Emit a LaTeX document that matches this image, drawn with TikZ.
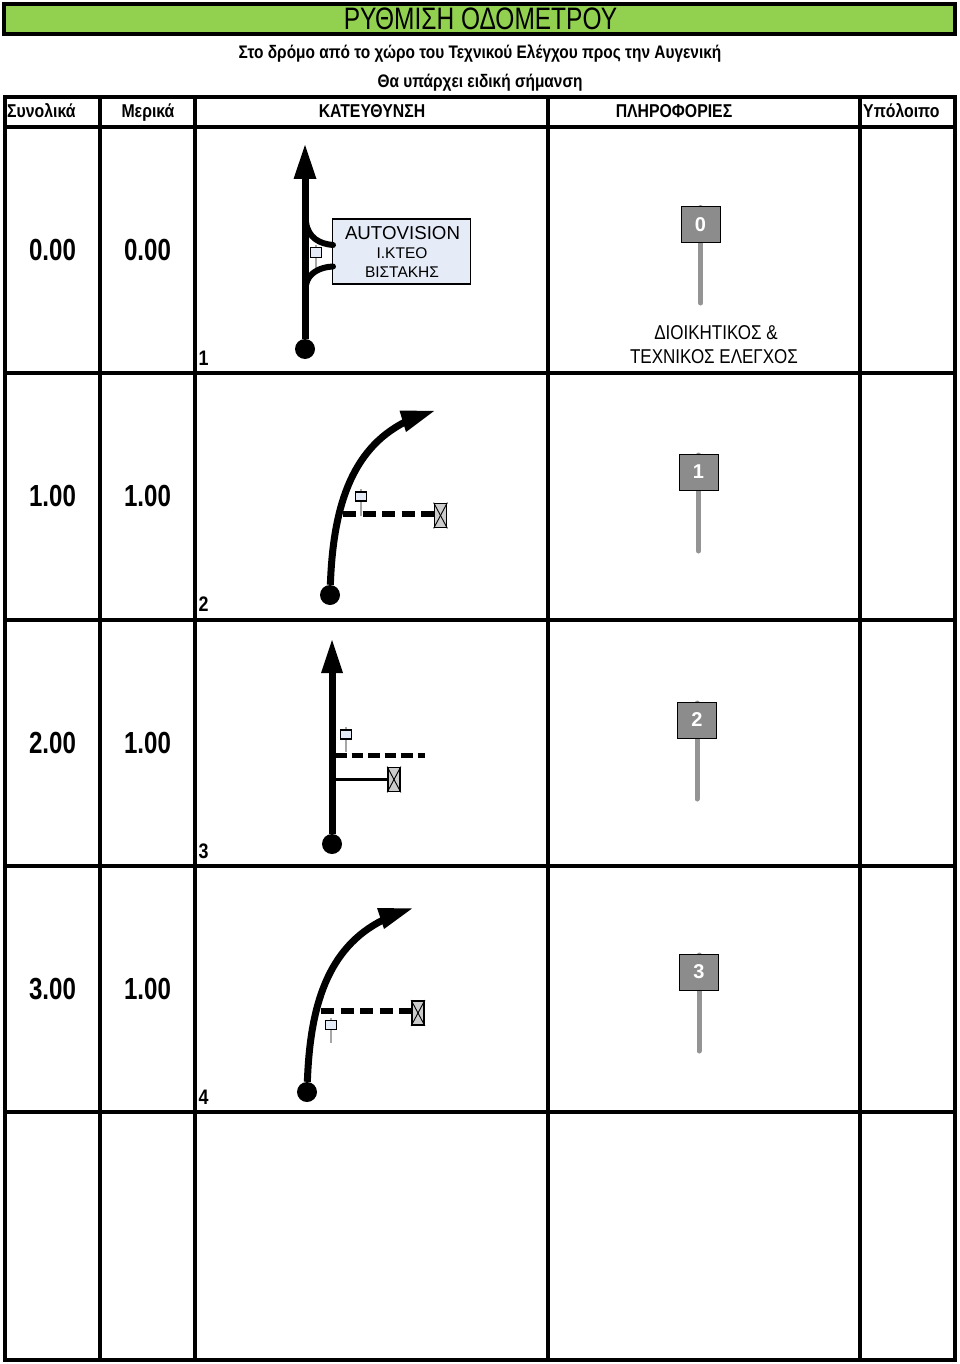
\documentclass[tikz,border=0pt]{standalone}
\usepackage{fontspec}
\setmainfont{Liberation Sans}
\newfontfamily\nar[FakeStretch=0.85]{Liberation Sans}
\newfontfamily\narr[FakeStretch=0.79]{Liberation Sans}
\usetikzlibrary{arrows.meta}
\definecolor{band}{HTML}{92D050}
\definecolor{panel}{HTML}{E6ECF7}
\tikzset{x=1pt,y=-1pt,
 rule/.style={line width=4pt,black,line cap=rect},
 title/.style={font=\narr\fontsize{31}{31}\selectfont,inner sep=0pt,anchor=base},
 sub/.style={font=\nar\bfseries\fontsize{18.15}{18}\selectfont,inner sep=0pt,anchor=base},
 head/.style={font=\nar\bfseries\fontsize{18.6}{19}\selectfont,inner sep=0pt,anchor=base},
 num/.style={font=\narr\bfseries\fontsize{30.5}{31}\selectfont,inner sep=0pt,anchor=base},
 idx/.style={font=\nar\bfseries\fontsize{21}{21}\selectfont,inner sep=0pt,anchor=base},
 info/.style={font=\nar\fontsize{20}{24}\selectfont,inner sep=0pt,anchor=base},
 road/.style={line width=7pt,black},
 dot/.style={circle,fill=black,inner sep=0pt,minimum size=20pt},
 dashroad/.style={line width=6pt,black,dash pattern=on 13pt off 6.5pt},
 dashroadb/.style={line width=5pt,black,dash pattern=on 11.5pt off 5pt},
 stopbox/.style={draw=black,line width=1.7pt,fill=black!20,minimum width=12pt,minimum height=24pt,inner sep=0pt},
 stopx/.style={line width=0.9pt,black},
 flag/.style={draw=black,line width=1.6pt,fill=panel,minimum width=11pt,minimum height=9pt,inner sep=0pt},
 flagthin/.style={flag,line width=1pt},
 pole/.style={line width=1.3pt,black!35},
 signpole/.style={line width=5pt,black!42,line cap=round},
 sign/.style={draw=black,line width=1pt,fill=black!45,text=white,minimum width=39pt,minimum height=36pt,inner sep=0pt,font=\bfseries\fontsize{20}{20}\selectfont},
 tip/.style={fill=black}
}
\begin{document}
\begin{tikzpicture}
\useasboundingbox (0,0) rectangle (960,1364);
\fill[white] (0,0) rectangle (960,1364);
% title band
\node[draw=black,line width=4pt,fill=band,minimum width=951pt,minimum height=30pt,inner sep=0pt,outer sep=0pt] (band) at (479.5,19) {};
\node[title] (ttl) at (480.5,29.5) {ΡΥΘΜΙΣΗ ΟΔΟΜΕΤΡΟΥ};
\node[sub] (s1) at (480,59) {Στο δρόμο από το χώρο του Τεχνικού Ελέγχου προς την Αυγενική};
\node[sub] (s2) at (480,88) {Θα υπάρχει ειδική σήμανση};
% grid
\draw[rule] (5,97) -- (955,97);
\draw[rule] (5,127) -- (955,127);
\foreach \yy in {373,620,866,1112,1360} \draw[rule] (5,\yy) -- (955,\yy);
\foreach \xx in {5,99.5,195,548,860,955} \draw[rule] (\xx,97) -- (\xx,1360);
% headers
\node[head,anchor=base west] (h1) at (7,118) {Συνολικά};
\node[head] (h2) at (148,118) {Μερικά};
\node[head] (h3) at (372,118) {ΚΑΤΕΥΘΥΝΣΗ};
\node[head] (h4) at (674,118) {ΠΛΗΡΟΦΟΡΙΕΣ};
\node[head,anchor=base west] (h5) at (863,118) {Υπόλοιπο};
% numbers
\node[num] (a0) at (52.5,260) {0.00}; \node[num] (b0) at (147.5,260) {0.00};
\node[num] (a1) at (52.5,506.5) {1.00}; \node[num] (b1) at (147.5,506.5) {1.00};
\node[num] (a2) at (52.5,753) {2.00}; \node[num] (b2) at (147.5,753) {1.00};
\node[num] (a3) at (52.5,999.5) {3.00}; \node[num] (b3) at (147.5,999.5) {1.00};
\node[idx] (i1) at (203.5,365) {1};
\node[idx] (i2) at (203.5,611.5) {2};
\node[idx] (i3) at (203.5,858) {3};
\node[idx] (i4) at (203.5,1104.5) {4};
% signs
\foreach \nm/\xx/\ytop/\ybot/\yc/\lab in {0/700.5/207.5/303/224.5/0, 1/698.5/455/551/472/1, 2/697/703/799/720/2, 3/699/955/1051/972/3}{
 \coordinate (pt\nm) at (\xx,\ytop);
 \coordinate (pb\nm) at (\xx,\ybot);
 \draw[signpole] (pt\nm) -- (pb\nm);
 \node[sign] (sg\nm) at (\xx,\yc) {\lab};
}
\node[info] (inf1) at (716,339) {ΔΙΟΙΚΗΤΙΚΟΣ \&};
\node[info] (inf2) at (714,363) {ΤΕΧΝΙΚΟΣ ΕΛΕΓΧΟΣ};
% row 0
\node[dot] (d0) at (305,349) {};
\coordinate (t0) at (305,178);
\coordinate (f0b) at (316,270); \coordinate (f0t) at (316,245);
\draw[pole] (f0t) -- (f0b);
\node[draw=black,line width=1.2pt,fill=panel,minimum width=138pt,minimum height=65pt,inner sep=0pt,outer sep=0pt,anchor=north west] (ap) at (332.5,219) {};
\node[font=\fontsize{18.7}{20}\selectfont,inner sep=0pt,anchor=base] (ap1) at (402.5,240) {AUTOVISION};
\node[font=\fontsize{15.5}{16}\selectfont,inner sep=0pt,anchor=base] (ap2) at (402,258.5) {Ι.ΚΤΕΟ};
\node[font=\fontsize{15.5}{16}\selectfont,inner sep=0pt,anchor=base] (ap3) at (402,277) {ΒΙΣΤΑΚΗΣ};
\coordinate (ju0) at (306,222); \coordinate (ap-a) at (333,245);
\coordinate (jd0) at (306,285); \coordinate (ap-b) at (333,266.5);
\draw[line width=6pt,line cap=round] (ju0) .. controls (308,238) and (320,244) .. (ap-a);
\draw[line width=6pt,line cap=round] (jd0) .. controls (308,273) and (320,267) .. (ap-b);
\draw[road] (d0) -- (t0);
\fill[tip] (305,145) -- (316.5,179) -- (293.5,179) -- cycle;
\node[flagthin] (f0) at (316,252.5) {};
% row 1
\node[dot] (d1) at (330,595) {};
\coordinate (t1) at (405,422);
\draw[road] (d1) .. controls (333,510) and (350,450) .. (t1);
\fill[tip] (434,411) -- (399.5,410.5) -- (406,432) -- cycle;
\node[stopbox] (st1) at (440.5,515.5) {};
\draw[stopx] (st1.north west) -- (st1.south east); \draw[stopx] (st1.north east) -- (st1.south west);
\coordinate (js1) at (343,514);
\draw[dashroad] (js1) -- (js1 -| st1.west);
\coordinate (f1t) at (361,489); \coordinate (f1b) at (361,516);
\draw[pole] (f1t) -- (f1b);
\node[flag] (f1) at (361,496.5) {};
% row 2
\node[dot] (d2) at (332,844) {};
\coordinate (t2) at (332,672);
\draw[road] (d2) -- (t2);
\fill[tip] (332,640) -- (343,673) -- (321,673) -- cycle;
\coordinate (js2) at (335,755); \coordinate (je2) at (425,755);
\draw[dashroadb] (js2) -- (je2);
\node[stopbox] (st2) at (394,779.5) {};
\draw[stopx] (st2.north west) -- (st2.south east); \draw[stopx] (st2.north east) -- (st2.south west);
\coordinate (jl2) at (332,779);
\draw[line width=3pt] (jl2) -- (jl2 -| st2.west);
\coordinate (f2t) at (346,727); \coordinate (f2b) at (346,752);
\draw[pole] (f2t) -- (f2b);
\node[flag] (f2) at (346,734.5) {};
% row 3
\node[dot] (d3) at (307,1092) {};
\coordinate (t3) at (383,920);
\draw[road] (d3) .. controls (310,1007) and (327,948) .. (t3);
\fill[tip] (412,908.5) -- (377,908) -- (384,929) -- cycle;
\node[stopbox] (st3) at (418,1013) {};
\draw[stopx] (st3.north west) -- (st3.south east); \draw[stopx] (st3.north east) -- (st3.south west);
\coordinate (js3) at (321,1011);
\draw[dashroad] (js3) -- (js3 -| st3.west);
\coordinate (f3t) at (331,1018); \coordinate (f3b) at (331,1043);
\draw[pole] (f3t) -- (f3b);
\node[flag] (f3) at (331,1025) {};
\end{tikzpicture}
\end{document}
